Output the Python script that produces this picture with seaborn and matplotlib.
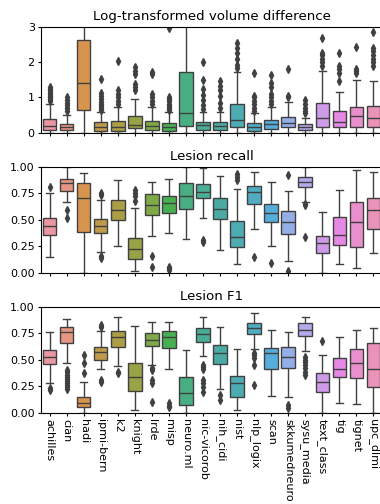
import numpy as np
import pandas as pd
import matplotlib
matplotlib.use("Agg")
import matplotlib.pyplot as plt
import seaborn as sns

teams = ["achilles", "cian", "hadi", "ipmi-bern", "k2", "knight", "lrde", "misp",
         "neuro.ml", "nic-vicorob", "nih_cidi", "nist", "nlp_logix", "scan",
         "skkumedneuro", "sysu_media", "text_class", "tig", "tignet", "upc_dlmi"]

titles = ["Log-transformed volume difference", "Lesion recall", "Lesion F1"]

# box statistics: (low whisker, q1, median, q3, high whisker)
vol_stats = [(0.0, 0.08, 0.18, 0.39, 0.80), (0.0, 0.08, 0.16, 0.26, 0.50),
             (0.0, 0.64, 1.40, 2.62, 4.5), (0.0, 0.06, 0.16, 0.29, 0.60),
             (0.0, 0.05, 0.15, 0.34, 0.74), (0.0, 0.12, 0.22, 0.48, 0.95),
             (0.0, 0.07, 0.18, 0.34, 0.72), (0.0, 0.06, 0.16, 0.28, 0.58),
             (0.0, 0.20, 0.55, 1.73, 3.6), (0.0, 0.09, 0.21, 0.31, 0.58),
             (0.0, 0.075, 0.19, 0.30, 0.59), (0.0, 0.17, 0.36, 0.80, 1.72),
             (0.0, 0.06, 0.15, 0.28, 0.55), (0.0, 0.11, 0.24, 0.36, 0.72),
             (0.0, 0.15, 0.28, 0.45, 0.88), (0.0, 0.075, 0.16, 0.26, 0.43),
             (0.0, 0.15, 0.43, 0.83, 1.75), (0.0, 0.17, 0.29, 0.61, 1.16),
             (0.0, 0.17, 0.47, 0.72, 1.49), (0.0, 0.17, 0.41, 0.75, 1.46)]
vol_out = [[0.9, 0.95, 1.0, 1.05, 1.1, 1.15, 1.2, 1.25, 1.3],
           [0.62, 0.7, 0.78, 0.85, 0.92, 1.0],
           [],
           [0.65, 0.7, 0.75, 0.8, 0.87, 0.95, 1.05, 1.12, 1.52],
           [0.8, 0.9, 1.0, 1.1, 1.2, 2.03],
           [1.2, 1.3, 1.38, 1.65, 1.75, 1.85],
           [0.8, 0.9, 1.0, 1.1, 1.65, 1.72],
           [0.65, 0.7, 0.75, 0.82, 0.9, 0.95, 1.02, 2.97],
           [],
           [0.66, 0.78, 0.92, 1.07, 1.25, 1.49, 2.01],
           [0.7, 0.83, 1.05, 1.2, 1.32, 1.45],
           [1.82, 1.92, 2.08, 2.25, 2.39, 2.53],
           [0.62, 0.7, 0.8, 0.9, 1.0, 1.05, 1.7],
           [0.8, 0.9, 1.0, 1.1, 1.3, 1.4, 1.63],
           [1.0, 1.05, 1.79],
           [0.55, 0.62, 0.7, 0.8, 0.92],
           [1.9, 2.0, 2.1, 2.2, 2.25, 2.69],
           [1.45, 1.7, 1.8, 1.9, 2.25],
           [1.7, 1.75, 1.8, 2.43],
           [1.9, 2.0, 2.1, 2.2, 2.3, 2.4, 2.85]]

rec_stats = [(0.15, 0.355, 0.445, 0.52, 0.755), (0.67, 0.774, 0.85, 0.884, 1.0),
             (0.0, 0.385, 0.705, 0.845, 0.94), (0.20, 0.37, 0.44, 0.51, 0.69),
             (0.25, 0.497, 0.59, 0.686, 0.87), (0.02, 0.126, 0.223, 0.324, 0.607),
             (0.346, 0.544, 0.638, 0.742, 0.858), (0.371, 0.566, 0.654, 0.723, 0.884),
             (0.32, 0.597, 0.723, 0.849, 1.0), (0.513, 0.701, 0.761, 0.836, 0.984),
             (0.214, 0.503, 0.597, 0.701, 0.915), (0.079, 0.245, 0.34, 0.487, 0.79),
             (0.41, 0.645, 0.764, 0.818, 0.947), (0.25, 0.481, 0.56, 0.648, 0.858),
             (0.11, 0.365, 0.475, 0.582, 0.77), (0.67, 0.805, 0.852, 0.906, 1.0),
             (0.0, 0.189, 0.277, 0.346, 0.569), (0.082, 0.261, 0.355, 0.528, 0.78),
             (0.047, 0.245, 0.481, 0.67, 0.969), (0.19, 0.409, 0.591, 0.708, 0.953)]
rec_out = [[0.81], [0.59, 0.52], [], [0.155, 0.14, 0.73, 0.75], [],
           [0.68, 0.72, 0.75, 0.78], [0.157, 0.057], [0.05, 0.04, 0.03], [],
           [0.29, 0.31], [], [0.87, 0.9, 0.93], [0.15], [0.088], [0.92, 0.016],
           [0.645, 0.635, 0.34], [], [], [], []]

f1_stats = [(0.277, 0.456, 0.528, 0.59, 0.764), (0.472, 0.654, 0.764, 0.811, 0.884),
            (0.0, 0.05, 0.088, 0.151, 0.286), (0.41, 0.50, 0.569, 0.62, 0.77),
            (0.443, 0.623, 0.711, 0.774, 0.9), (0.03, 0.204, 0.34, 0.465, 0.818),
            (0.45, 0.629, 0.686, 0.755, 0.852), (0.412, 0.607, 0.711, 0.774, 0.852),
            (0.0, 0.072, 0.182, 0.333, 0.59), (0.535, 0.664, 0.739, 0.802, 0.9),
            (0.22, 0.459, 0.566, 0.638, 0.805), (0.025, 0.145, 0.277, 0.346, 0.597),
            (0.60, 0.739, 0.802, 0.849, 0.937), (0.157, 0.409, 0.56, 0.607, 0.78),
            (0.145, 0.418, 0.528, 0.623, 0.764), (0.58, 0.723, 0.78, 0.843, 0.906),
            (0.0, 0.198, 0.292, 0.377, 0.544), (0.094, 0.333, 0.412, 0.513, 0.711),
            (0.082, 0.324, 0.472, 0.597, 0.78), (0.0, 0.245, 0.409, 0.654, 0.802)]
f1_out = [[0.23, 0.21], [0.40, 0.38, 0.36, 0.34, 0.32, 0.30, 0.28, 0.26, 0.24, 0.22],
          [0.371, 0.465, 0.544], [0.31, 0.29, 0.81, 0.83], [0.385, 0.375], [],
          [0.418, 0.40, 0.31, 0.28, 0.104], [0.088, 0.06, 0.05], [],
          [0.45, 0.43, 0.41, 0.31, 0.28, 0.24, 0.2], [0.167, 0.12], [],
          [0.56, 0.54, 0.52, 0.45, 0.26], [], [0.07, 0.04],
          [0.53, 0.50, 0.48, 0.45, 0.42, 0.38, 0.36], [0.68], [], [], []]

y_limits = [(0, 3), (0, 1), (0, 1)]
y_ticks = [[0, 1, 2, 3], [0, 0.25, 0.5, 0.75, 1.0], [0, 0.25, 0.5, 0.75, 1.0]]


def samples(stats, outliers):
    """Build sample values whose box statistics equal the read values."""
    lo, q1, med, q3, hi = stats
    low = sorted(v for v in outliers if v < q1)
    high = sorted(v for v in outliers if v > q3)
    m = max(len(low), len(high)) + 2
    below = low + [lo] + [q1] * (m - len(low) - 1)
    mid = [q1] + [q1] * (m - 1) + [med] + [q3] * (m - 1) + [q3]
    above = [q3] * (m - len(high) - 1) + [hi] + high
    return below + mid + above


def frame(stats_list, out_list):
    rows = []
    for t, s, o in zip(teams, stats_list, out_list):
        for v in samples(s, o):
            rows.append((t, v))
    return pd.DataFrame(rows, columns=["team", "value"])


frames = [frame(vol_stats, vol_out), frame(rec_stats, rec_out), frame(f1_stats, f1_out)]

plt.rcParams["font.family"] = ["DejaVu Sans"]
fig = plt.figure(figsize=(3.8, 5.04), dpi=100)
pal = sns.husl_palette(len(teams), l=.7)

W, H = 380.0, 504.0
left, right = 41.0, 382.0
tops = [26.7, 166.7, 306.7]
height = 106.0

for i, df in enumerate(frames):
    ax = fig.add_axes([left / W, (H - tops[i] - height) / H, (right - left) / W, height / H])
    sns.boxplot(data=df, x="team", y="value", hue="team", order=teams, hue_order=teams,
                palette=pal, saturation=0.75, legend=False, ax=ax, width=0.8,
                linewidth=1.0, linecolor="0.25", fliersize=4.2,
                flierprops={"marker": "d", "markerfacecolor": "0.25",
                            "markeredgecolor": "0.25"})
    ax.set_ylim(*y_limits[i])
    ax.set_yticks(y_ticks[i])
    ax.set_xlim(-0.5, len(teams) - 0.5)
    ax.set_xlabel("")
    ax.set_ylabel("")
    ax.set_title(titles[i], fontsize=9.6, pad=5)
    ax.tick_params(axis="both", labelsize=8, length=2.5, width=0.8, pad=2)
    if i < 2:
        ax.set_xticklabels([])
    else:
        ax.set_xticks(range(len(teams)))
        ax.set_xticklabels(teams, rotation=-90)

fig.savefig("out.png", dpi=100)
